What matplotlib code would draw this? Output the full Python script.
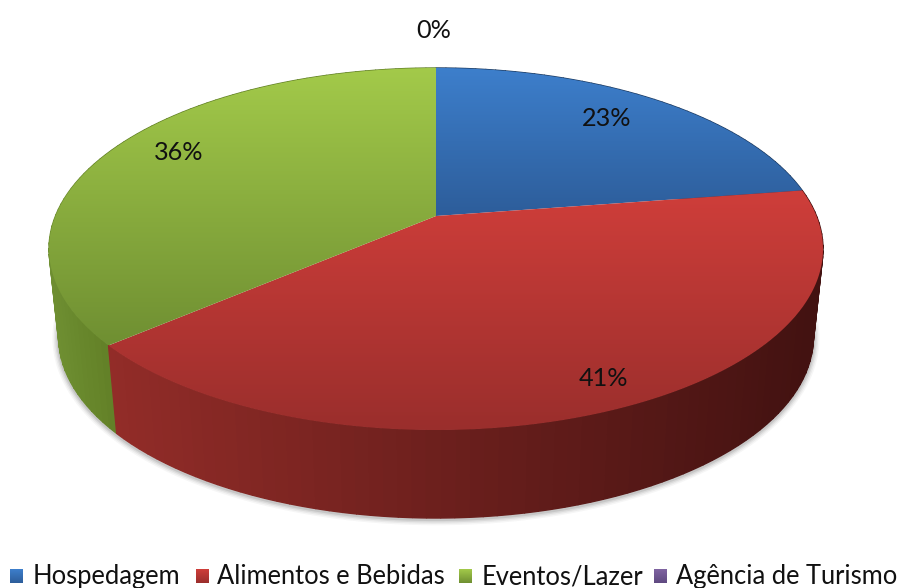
import numpy as np
import matplotlib
matplotlib.use("Agg")
import matplotlib.pyplot as plt
from matplotlib.colors import LinearSegmentedColormap
from matplotlib.patches import Polygon

categories = ["Hospedagem", "Alimentos e Bebidas", "Eventos/Lazer", "Agência de Turismo"]
values = [22.6, 41.1, 36.3, 0.0]

# colour ramps, top face (light -> dark) and side wall (left -> right)
top_colors = [("#3d7fcc", "#2d5d9a"), ("#cf3e3a", "#9a2e2c"), ("#a3ca4a", "#6f8f32"), ("#8064a2", "#5f4a80")]
side_colors = [("#2d5d9a", "#1d3c63"), ("#922c28", "#431211"), ("#6f8f32", "#628027"), ("#5f4a80", "#3c2f52")]

# perspective of the disc, in pixels
CX, CY = 436, 216
A, B, K = 380.5, 175, 0.1823
DEPTH = 88
LOWER_SCALE = 0.975

plt.rcParams["font.family"] = ["Lato", "DejaVu Sans"]

fig = plt.figure(figsize=(8.98, 5.88), dpi=100)
ax = fig.add_axes([0, 0, 1, 1])
ax.set_axis_off()
ax.set_autoscale_on(False)
ax.set_xlim(0, 898)
ax.set_ylim(588, 0)


def project(frac):
    # frac = share of the full circle, clockwise from 12 o'clock
    ang = 2 * np.pi * np.asarray(frac)
    u, v = np.sin(ang), np.cos(ang)
    w = 1 + K * v
    return CX + A * u / w, CY - B * v / w


def project_low(frac):
    x, y = project(frac)
    return CX + LOWER_SCALE * (x - CX), y + DEPTH


def grad_fill(pts, c0, c1):
    # vertical gradient clipped to a polygon
    pts = np.asarray(pts)
    cmap = LinearSegmentedColormap.from_list("g", [c0, c1])
    patch = Polygon(pts, closed=True, fc="none", ec="none", transform=ax.transData)
    ax.add_patch(patch)
    im = ax.imshow(np.linspace(0, 1, 256).reshape(-1, 1), cmap=cmap, aspect="auto",
                   extent=(pts[:, 0].min(), pts[:, 0].max(), pts[:, 1].max(), pts[:, 1].min()),
                   zorder=3, interpolation="bilinear")
    im.set_clip_path(patch)
    ax.set_xlim(0, 898)
    ax.set_ylim(588, 0)


fr = np.cumsum([0] + values) / sum(values)

# soft shadow under the wall
t = np.linspace(0, 1, 721)
sx, sy = project_low(t)
for lw, al in zip([9, 7, 5, 3], [0.05, 0.07, 0.10, 0.14]):
    ax.plot(sx, sy + 1, color="#505050", lw=lw, alpha=al, zorder=1)

# side wall, strips painted back to front
strips = []
for i, val in enumerate(values):
    if val == 0:
        continue
    steps = np.linspace(fr[i], fr[i + 1], int(val * 2) + 2)
    for a, b in zip(steps[:-1], steps[1:]):
        strips.append((a, b, i))
strips.sort(key=lambda s: np.cos(np.pi * (s[0] + s[1])), reverse=True)
for a, b, i in strips:
    xa, ya = project(np.linspace(a, b, 6))
    xb, yb = project_low(np.linspace(a, b, 6))
    cmap = LinearSegmentedColormap.from_list("s", side_colors[i])
    pos = np.clip((xa.mean() - 110) / 700, 0, 1) if i == 1 else np.clip((xa.mean() - 50) / 60, 0, 1)
    ax.fill(np.r_[xa, xb[::-1]], np.r_[ya, yb[::-1]], color=cmap(pos), lw=1.0, zorder=2)

# top face
for i, val in enumerate(values):
    if val == 0:
        continue
    arc = np.linspace(fr[i], fr[i + 1], int(val * 6) + 2)
    x, y = project(arc)
    pts = np.column_stack([np.r_[CX, x], np.r_[CY, y]])
    grad_fill(pts, top_colors[i][0], top_colors[i][1])

# percent labels
label_x = [607, 603, 179, 434]
label_y = [118, 378, 152, 30]
for val, lx, ly in zip(values, label_x, label_y):
    ax.text(lx, ly, f"{val:.0f}%", ha="center", va="center", fontsize=18.2, color="#111111", zorder=5)

# legend
box_x = [10, 196, 459, 654]
text_x = [33, 217, 482, 676]
for i, name in enumerate(categories):
    b = box_x[i]
    grad_fill([(b, 569), (b + 13, 569), (b + 13, 583), (b, 583)], top_colors[i][0], top_colors[i][1])
    ax.text(text_x[i], 584, name, ha="left", va="baseline", fontsize=18.4, color="#111111", zorder=5)

fig.savefig("out.png", dpi=100, facecolor="white")
